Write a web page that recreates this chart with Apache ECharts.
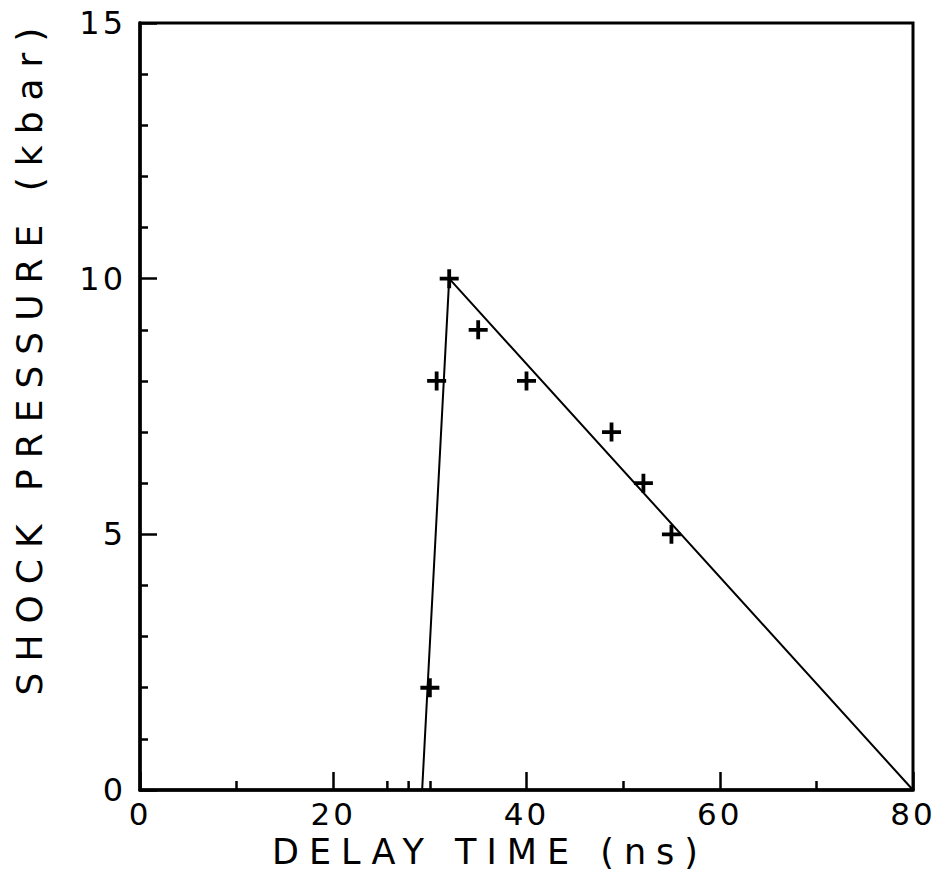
<!DOCTYPE html>
<html>
<head>
<meta charset="utf-8">
<script src="https://cdn.jsdelivr.net/npm/echarts@6/dist/echarts.min.js"></script>
<style>
  html, body { margin: 0; padding: 0; background: #fff; }
  #chart { width: 942px; height: 876px; }
  #chart svg text { letter-spacing: 3px; }
</style>
</head>
<body>
<div id="chart"></div>
<script>
// Measured points: delay time (ns) and shock pressure (kbar)
const delayTimes = [30, 30.7, 32, 35, 40, 48.8, 52.1, 55];
const pressures  = [2, 8, 10, 9, 8, 7, 6, 5];

// Triangular pulse fit: onset, peak, end of decay
const fitTimes     = [29.2, 32, 80];
const fitPressures = [0, 10, 0];

// Two extra short marks on the time axis
const extraTickTimes = [25.6, 27.8];

// Labelled ticks
const xTickLabels = [0, 20, 40, 60, 80];
const yTickLabels = [0, 5, 10, 15];

const xTitle = 'DELAY TIME (ns)';
const yTitle = 'SHOCK PRESSURE (kbar)';

const FONT = 'DejaVu Sans';
const crossSymbol = 'path://M0 8H20V12H0Z M8 0H12V20H8Z';

const chart = echarts.init(document.getElementById('chart'), null, { renderer: 'svg' });

const axisCommon = {
  type: 'value',
  axisLine: { show: true, onZero: false, lineStyle: { color: '#000', width: 3.5 } },
  axisTick: { show: true, inside: true, lineStyle: { color: '#000', width: 2.5 } },
  minorTick: { show: true, lineStyle: { color: '#000', width: 2.5 } },
  splitLine: { show: false },
  minorSplitLine: { show: false }
};

chart.setOption({
  animation: false,
  backgroundColor: '#fff',
  grid: {
    left: 140, right: 29, top: 23, bottom: 86,
    show: true, borderColor: '#000', borderWidth: 3, backgroundColor: 'transparent'
  },
  xAxis: Object.assign({}, axisCommon, {
    min: 0, max: 80, interval: 20,
    axisTick: Object.assign({}, axisCommon.axisTick, { length: 18 }),
    minorTick: Object.assign({}, axisCommon.minorTick, { splitNumber: 2, length: 9 }),
    axisLabel: {
      margin: 9, color: '#000', fontSize: 31, lineHeight: 30, fontFamily: FONT,
      formatter: v => xTickLabels.includes(v) ? String(v) : ''
    }
  }),
  yAxis: Object.assign({}, axisCommon, {
    min: 0, max: 15, interval: 5,
    axisTick: Object.assign({}, axisCommon.axisTick, { length: 17 }),
    minorTick: Object.assign({}, axisCommon.minorTick, { splitNumber: 5, length: 8 }),
    axisLabel: {
      margin: 14, color: '#000', fontSize: 32, fontFamily: FONT,
      formatter: v => yTickLabels.includes(v) ? String(v) : ''
    }
  }),
  graphic: [
    {
      type: 'text', x: 490, y: 852,
      style: { text: xTitle, fontSize: 35, lineHeight: 34, fontFamily: FONT, fill: '#000',
               align: 'center', verticalAlign: 'middle',
               textAlign: 'center', textVerticalAlign: 'middle' }
    },
    {
      type: 'text', x: 29, y: 356, rotation: Math.PI / 2,
      style: { text: yTitle, fontSize: 36, fontFamily: FONT, fill: '#000',
               align: 'center', verticalAlign: 'middle',
               textAlign: 'center', textVerticalAlign: 'middle' }
    }
  ],
  series: [
    {
      type: 'line',
      data: fitTimes.map((t, i) => [t, fitPressures[i]]),
      showSymbol: false,
      clip: false,
      lineStyle: { color: '#000', width: 2 },
      z: 3
    },
    {
      type: 'scatter',
      data: delayTimes.map((t, i) => [t, pressures[i]]),
      symbol: crossSymbol,
      symbolSize: 19,
      itemStyle: { color: '#000', opacity: 1 },
      z: 4
    },
    {
      type: 'scatter',
      data: extraTickTimes.map(t => [t, 0]),
      symbol: 'rect',
      symbolSize: [2.5, 9],
      symbolOffset: [0, -4.5],
      itemStyle: { color: '#000', opacity: 1 },
      z: 4
    }
  ]
});

// Wider tracking on the axis titles
function spaceTitles() {
  document.querySelectorAll('#chart svg text').forEach(t => {
    const s = t.textContent;
    if (s.length > 3) t.style.letterSpacing = (s.length > 16 ? 11 : 10) + 'px';
  });
}
chart.on('finished', spaceTitles);
setTimeout(spaceTitles, 50);
</script>
</body>
</html>
